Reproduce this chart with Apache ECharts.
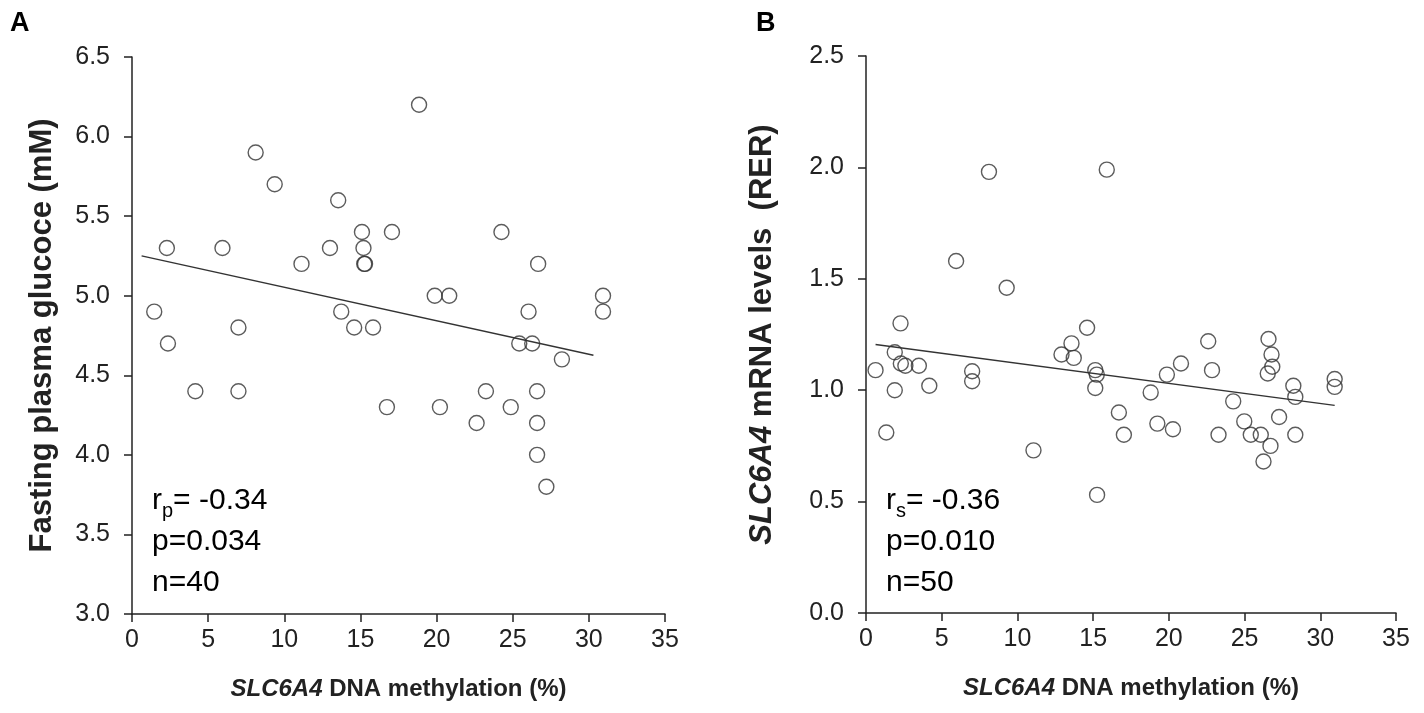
<!DOCTYPE html>
<html>
<head>
<meta charset="utf-8">
<script src="https://cdn.jsdelivr.net/npm/echarts@6/dist/echarts.min.js"></script>
<style>
html,body{margin:0;padding:0;background:#fff;}
#chart{width:1424px;height:713px;}
</style>
</head>
<body>
<div id="chart"></div>
<script>
// ---- Panel A data: SLC6A4 DNA methylation (%) vs fasting plasma glucose (mM)
const methylA = [18.85,8.12,9.37,13.54,15.1,17.07,24.26,2.29,5.94,13.0,15.2,15.25,15.3,11.13,26.67,19.88,20.83,30.93,1.46,13.74,26.04,30.93,6.99,14.59,15.83,2.36,25.43,26.28,28.23,4.16,6.99,23.24,26.6,16.74,20.22,24.87,22.63,26.6,26.6,27.21];
const glucoseA = [6.2,5.9,5.7,5.6,5.4,5.4,5.4,5.3,5.3,5.3,5.3,5.2,5.2,5.2,5.2,5.0,5.0,5.0,4.9,4.9,4.9,4.9,4.8,4.8,4.8,4.7,4.7,4.7,4.6,4.4,4.4,4.4,4.4,4.3,4.3,4.3,4.2,4.2,4.0,3.8];
const fitA_x = [0.63, 30.3];
const fitA_y = [5.25, 4.626];

// ---- Panel B data: SLC6A4 DNA methylation (%) vs SLC6A4 mRNA levels (RER)
const methylB = [8.12,15.9,5.95,9.29,0.63,2.28,1.90,2.30,2.60,3.49,1.90,4.18,1.34,7.01,7.01,11.06,12.91,13.57,13.72,14.6,15.14,15.24,15.14,15.26,16.7,17.03,18.8,19.24,19.87,20.27,20.8,22.6,22.85,23.28,24.25,24.98,25.41,26.07,26.25,26.58,26.78,26.83,26.53,26.71,27.28,28.22,28.35,28.35,30.95,30.95];
const mrnaB = [1.98,1.99,1.58,1.46,1.09,1.30,1.17,1.12,1.11,1.11,1.00,1.02,0.81,1.085,1.04,0.73,1.16,1.21,1.145,1.28,1.09,1.07,1.01,0.53,0.90,0.80,0.99,0.85,1.07,0.825,1.12,1.22,1.09,0.80,0.95,0.86,0.80,0.80,0.68,1.23,1.16,1.105,1.075,0.75,0.88,1.02,0.97,0.80,1.05,1.015];
const fitB_x = [0.63, 30.95];
const fitB_y = [1.205, 0.932];

// ---- Axis ranges / tick labels
const xTicks = [0,5,10,15,20,25,30,35];
const yTicksA = [3.0,3.5,4.0,4.5,5.0,5.5,6.0,6.5];
const yTicksB = [0.0,0.5,1.0,1.5,2.0,2.5];

const FONT = '"Liberation Sans", Arial, sans-serif';
const INK = '#222';

function pairs(xs, ys){ return xs.map((x,i)=>[x, ys[i]]); }

function xAxisCfg(idx){
  return {
    type:'value', gridIndex:idx, min:xTicks[0], max:xTicks[xTicks.length-1], interval:5,
    splitLine:{show:false},
    axisLine:{show:true, onZero:false, lineStyle:{color:INK, width:1.5}},
    axisTick:{show:true, inside:false, length:8, lineStyle:{color:INK, width:1.5}},
    axisLabel:{color:INK, fontSize:25, fontFamily:FONT, margin:14},
    name:'{it|SLC6A4} DNA methylation (%)', nameLocation:'middle', nameGap:63,
    nameTextStyle:{color:INK, fontSize:24, fontWeight:'bold', fontFamily:FONT,
      rich:{it:{fontStyle:'italic', fontWeight:'bold', fontSize:24, fontFamily:FONT, color:INK}}}
  };
}
function yAxisCfg(idx, ticks, name, gap){
  return {
    type:'value', gridIndex:idx, min:ticks[0], max:ticks[ticks.length-1], interval:0.5,
    splitLine:{show:false},
    axisLine:{show:true, onZero:false, lineStyle:{color:INK, width:1.5}},
    axisTick:{show:true, inside:false, length:8, lineStyle:{color:INK, width:1.5}},
    axisLabel:{color:INK, fontSize:25, fontFamily:FONT, margin:22, formatter:v=>v.toFixed(1)},
    name:name, nameLocation:'middle', nameGap:gap, nameRotate:90,
    nameTextStyle:{color:INK, fontSize:31, fontWeight:'bold', fontFamily:FONT,
      rich:{it:{fontStyle:'italic', fontWeight:'bold', fontSize:31, fontFamily:FONT, color:INK}}}
  };
}

const scatterStyle = {color:'rgba(255,255,255,0)', borderColor:'#333', borderWidth:1.4};

const chart = echarts.init(document.getElementById('chart'), null, {renderer:'canvas'});
chart.setOption({
  backgroundColor:'#fff',
  animation:false,
  grid:[
    {left:132, right:759, top:57, bottom:99},
    {left:866, right:28, top:56, bottom:100}
  ],
  xAxis:[xAxisCfg(0), xAxisCfg(1)],
  yAxis:[
    yAxisCfg(0, yTicksA, 'Fasting plasma glucoce (mM)', 74),
    yAxisCfg(1, yTicksB, '{it|SLC6A4} mRNA levels  (RER)', 88)
  ],
  series:[
    {type:'scatter', xAxisIndex:0, yAxisIndex:0, data:pairs(methylA, glucoseA),
     symbol:'circle', symbolSize:15, itemStyle:scatterStyle, z:3},
    {type:'line', xAxisIndex:0, yAxisIndex:0, data:pairs(fitA_x, fitA_y),
     symbol:'none', lineStyle:{color:'#333', width:1.4}, z:2},
    {type:'scatter', xAxisIndex:1, yAxisIndex:1, data:pairs(methylB, mrnaB),
     symbol:'circle', symbolSize:15, itemStyle:scatterStyle, z:3},
    {type:'line', xAxisIndex:1, yAxisIndex:1, data:pairs(fitB_x, fitB_y),
     symbol:'none', lineStyle:{color:'#333', width:1.4}, z:2}
  ],
  graphic:[
    {type:'text', left:10, top:10, style:{text:'A', font:'bold 27px '+FONT, fill:'#000'}},
    {type:'text', left:756, top:10, style:{text:'B', font:'bold 27px '+FONT, fill:'#000'}},
    {type:'text', left:152, top:480, style:{
      text:'r{sub|p}= -0.34\np=0.034\nn=40',
      font:'30px '+FONT, fill:'#000', lineHeight:41,
      rich:{sub:{fontSize:20, fontFamily:FONT, fill:'#000', verticalAlign:'bottom', lineHeight:20, padding:[14,0,0,0]}}
    }},
    {type:'text', left:886, top:480, style:{
      text:'r{sub|s}= -0.36\np=0.010\nn=50',
      font:'30px '+FONT, fill:'#000', lineHeight:41,
      rich:{sub:{fontSize:20, fontFamily:FONT, fill:'#000', verticalAlign:'bottom', lineHeight:20, padding:[14,0,0,0]}}
    }}
  ]
});
</script>
</body>
</html>
